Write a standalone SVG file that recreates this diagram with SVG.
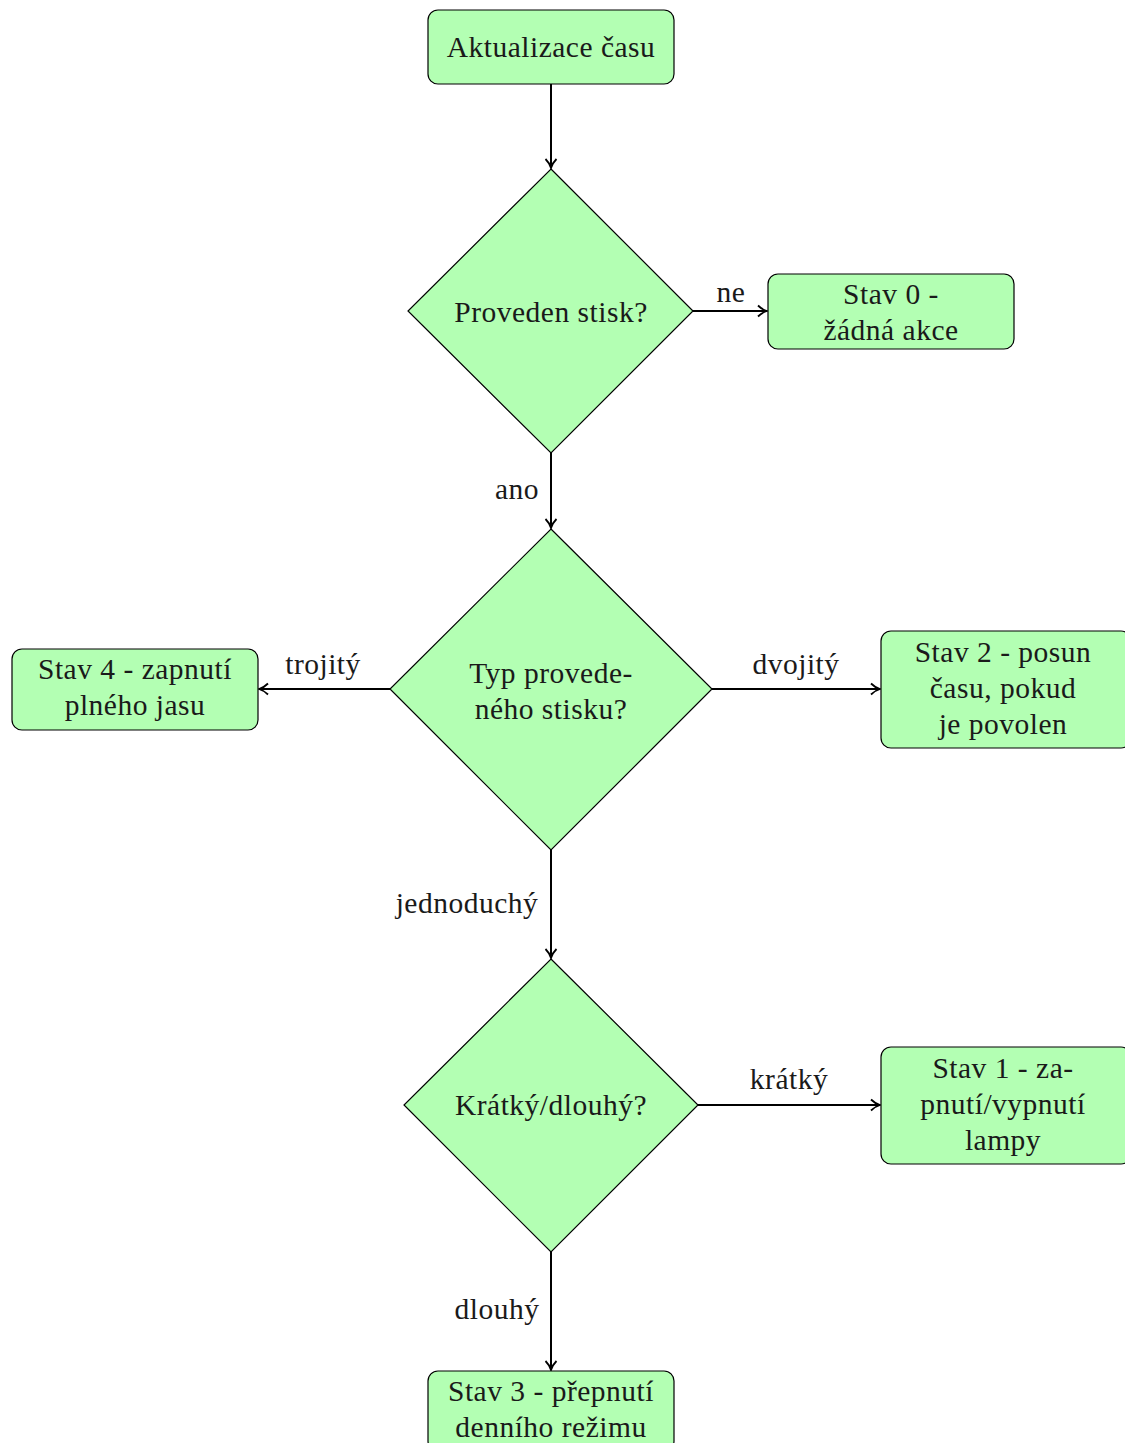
<svg xmlns="http://www.w3.org/2000/svg" width="1125" height="1443" viewBox="0 0 1125 1443">
<defs>
<style>
.box{fill:#b3ffb3;stroke:#000;stroke-width:1.2}
.t{font-family:"Liberation Serif","DejaVu Serif",serif;font-size:29.5px;letter-spacing:0.5px;fill:#1a1a1a;text-anchor:middle}
.e{stroke:#000;stroke-width:2;fill:none}
</style>
<marker id="ar" viewBox="0 0 14 14" refX="12" refY="7" markerWidth="14" markerHeight="14" markerUnits="userSpaceOnUse" orient="auto">
<path d="M3,1.5 Q7,5.5 12,7 Q7,8.5 3,12.5" fill="none" stroke="#000" stroke-width="1.8"/>
</marker>
</defs>
<rect width="1125" height="1443" fill="#fff"/>
<g id="connectors">
<line class="e" x1="551" y1="84" x2="551" y2="168" marker-end="url(#ar)"/>
<line class="e" x1="693" y1="311" x2="767" y2="311" marker-end="url(#ar)"/>
<line class="e" x1="551" y1="453" x2="551" y2="528" marker-end="url(#ar)"/>
<line class="e" x1="390" y1="689" x2="259" y2="689" marker-end="url(#ar)"/>
<line class="e" x1="712" y1="689" x2="880" y2="689" marker-end="url(#ar)"/>
<line class="e" x1="551" y1="850" x2="551" y2="958" marker-end="url(#ar)"/>
<line class="e" x1="698" y1="1105" x2="880" y2="1105" marker-end="url(#ar)"/>
<line class="e" x1="551" y1="1252" x2="551" y2="1370" marker-end="url(#ar)"/>
<text class="t" x="731" y="302">ne</text>
<text class="t" x="517" y="499">ano</text>
<text class="t" x="323" y="674">trojitý</text>
<text class="t" x="796" y="674">dvojitý</text>
<text class="t" x="467" y="913">jednoduchý</text>
<text class="t" x="789" y="1089">krátký</text>
<text class="t" x="497" y="1319">dlouhý</text>
</g>
<g id="start">
<rect class="box" x="428" y="10" width="246" height="74" rx="10"/>
<text class="t" x="551" y="57">Aktualizace času</text>
</g>
<g id="d1">
<polygon class="box" points="551,169 693,311 551,453 408,311"/>
<text class="t" x="551" y="322">Proveden stisk?</text>
</g>
<g id="s0">
<rect class="box" x="768" y="274" width="246" height="75" rx="10"/>
<text class="t" x="891" y="304">Stav 0 -</text>
<text class="t" x="891" y="340">žádná akce</text>
</g>
<g id="d2">
<polygon class="box" points="551,529 712,689 551,850 390,689"/>
<text class="t" x="551" y="683">Typ provede-</text>
<text class="t" x="551" y="719">ného stisku?</text>
</g>
<g id="s4">
<rect class="box" x="12" y="649" width="246" height="81" rx="10"/>
<text class="t" x="135" y="679">Stav 4 - zapnutí</text>
<text class="t" x="135" y="715">plného jasu</text>
</g>
<g id="s2">
<rect class="box" x="881" y="631" width="250" height="117" rx="10"/>
<text class="t" x="1003" y="662">Stav 2 - posun</text>
<text class="t" x="1003" y="698">času, pokud</text>
<text class="t" x="1003" y="734">je povolen</text>
</g>
<g id="d3">
<polygon class="box" points="551,959 698,1105 551,1252 404,1105"/>
<text class="t" x="551" y="1115">Krátký/dlouhý?</text>
</g>
<g id="s1">
<rect class="box" x="881" y="1047" width="250" height="117" rx="10"/>
<text class="t" x="1003" y="1078">Stav 1 - za-</text>
<text class="t" x="1003" y="1114">pnutí/vypnutí</text>
<text class="t" x="1003" y="1150">lampy</text>
</g>
<g id="s3">
<rect class="box" x="428" y="1371" width="246" height="80" rx="10"/>
<text class="t" x="551" y="1401">Stav 3 - přepnutí</text>
<text class="t" x="551" y="1437">denního režimu</text>
</g>
</svg>
